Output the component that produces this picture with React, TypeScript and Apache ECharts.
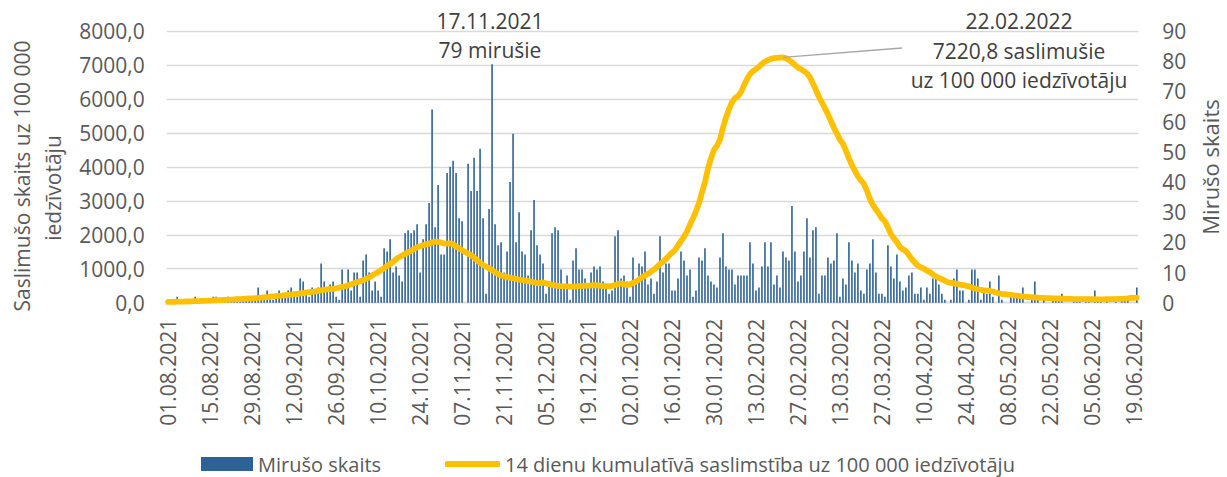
import React, { useEffect, useRef } from "react";
import * as echarts from "echarts";

const FONT = "'Open Sans', 'Noto Sans', sans-serif";

// Categories: daily dates from 01.08.2021, 324 days
const START = { year: 2021, month: 8, day: 1 };
const DAY_COUNT = 324;

const categories: string[] = (() => {
  const out: string[] = [];
  for (let i = 0; i < DAY_COUNT; i++) {
    const d = new Date(Date.UTC(START.year, START.month - 1, START.day + i));
    const dd = String(d.getUTCDate()).padStart(2, "0");
    const mm = String(d.getUTCMonth() + 1).padStart(2, "0");
    out.push(`${dd}.${mm}.${d.getUTCFullYear()}`);
  }
  return out;
})();

// Daily deaths (right axis)
const deaths: number[] = [
  1, 0, 1, 2, 0, 1, 1, 0, 1, 2,
  0, 1, 0, 1, 1, 2, 2, 0, 1, 1,
  2, 1, 1, 2, 1, 2, 1, 2, 2, 1,
  5, 1, 2, 4, 2, 1, 2, 4, 2, 2,
  4, 5, 3, 2, 8, 7, 3, 2, 5, 3,
  5, 13, 7, 4, 6, 7, 2, 1, 11, 5,
  11, 4, 10, 10, 2, 14, 16, 10, 4, 7,
  4, 2, 18, 17, 21, 10, 12, 9, 7, 23,
  24, 23, 24, 26, 10, 21, 26, 33, 64, 25,
  39, 16, 16, 43, 45, 47, 43, 28, 27, 0,
  46, 37, 48, 37, 51, 28, 3, 31, 79, 26,
  19, 20, 10, 17, 40, 56, 20, 30, 17, 16,
  9, 24, 34, 19, 16, 13, 3, 7, 23, 25,
  24, 11, 5, 9, 1, 14, 18, 11, 11, 8,
  6, 10, 12, 11, 12, 7, 6, 3, 4, 22,
  24, 8, 9, 7, 2, 15, 7, 13, 12, 17,
  6, 8, 3, 7, 22, 10, 13, 13, 4, 4,
  8, 17, 14, 9, 11, 2, 4, 15, 14, 18,
  9, 7, 6, 5, 15, 23, 12, 11, 11, 6,
  9, 9, 9, 9, 20, 13, 4, 5, 12, 20,
  12, 20, 6, 9, 5, 17, 15, 14, 32, 17,
  7, 9, 17, 28, 15, 24, 25, 3, 9, 9,
  15, 13, 14, 23, 2, 8, 6, 20, 14, 10,
  13, 4, 3, 11, 13, 21, 10, 3, 3, 2,
  19, 12, 8, 16, 7, 4, 5, 9, 10, 3,
  3, 5, 1, 5, 3, 8, 9, 6, 3, 1,
  0, 1, 8, 11, 4, 4, 0, 1, 11, 11,
  8, 1, 4, 3, 7, 2, 0, 9, 1, 0,
  0, 2, 2, 2, 2, 5, 0, 0, 1, 7,
  1, 0, 1, 0, 0, 1, 1, 1, 3, 0,
  0, 0, 1, 1, 1, 0, 1, 1, 0, 4,
  1, 1, 0, 1, 0, 0, 1, 0, 1, 1,
  1, 0, 0, 5,
];

// 14-day cumulative incidence per 100 000 (left axis)
const incidence: number[] = [
  25, 26, 28, 30, 32, 34, 36, 38, 41, 44,
  48, 52, 56, 60, 64, 68, 72, 76, 80, 84,
  88, 92, 97, 102, 107, 112, 118, 124, 130, 136,
  143, 150, 158, 166, 174, 183, 192, 201, 210, 220,
  230, 240, 251, 262, 273, 284, 296, 308, 320, 333,
  346, 360, 375, 390, 400, 410, 425, 445, 465, 485,
  510, 540, 575, 605, 635, 664, 700, 745, 800, 850,
  900, 960, 1020, 1080, 1140, 1200, 1280, 1340, 1390, 1440,
  1480, 1530, 1580, 1630, 1660, 1690, 1718, 1740, 1770, 1800,
  1795, 1770, 1740, 1740, 1747, 1720, 1660, 1600, 1550, 1490,
  1440, 1400, 1330, 1250, 1170, 1110, 1060, 1010, 960, 900,
  840, 800, 775, 755, 740, 720, 700, 680, 665, 650,
  635, 620, 600, 575, 580, 595, 570, 545, 525, 510,
  495, 487, 480, 480, 470, 475, 480, 487, 490, 500,
  505, 510, 517, 510, 500, 490, 485, 487, 495, 520,
  545, 566, 540, 517, 540, 580, 620, 680, 743, 800,
  850, 910, 980, 1050, 1140, 1205, 1290, 1380, 1470, 1550,
  1680, 1820, 1943, 2100, 2300, 2486, 2700, 2928, 3250, 3550,
  3950, 4250, 4500, 4620, 4800, 5150, 5450, 5700, 5900, 6020,
  6080, 6200, 6400, 6580, 6730, 6820, 6880, 6950, 7030, 7100,
  7140, 7180, 7200, 7210, 7215, 7220.8, 7200, 7140, 7080, 7000,
  6920, 6880, 6820, 6750, 6640, 6450, 6260, 6060, 5900, 5720,
  5550, 5350, 5150, 4980, 4800, 4680, 4480, 4250, 4050, 3880,
  3720, 3600, 3500, 3300, 3050, 2880, 2750, 2620, 2480, 2400,
  2220, 2020, 1900, 1780, 1640, 1570, 1520, 1400, 1280, 1180,
  1090, 1040, 1000, 950, 900, 830, 780, 730, 690, 650,
  600, 585, 570, 555, 535, 517, 500, 480, 450, 420,
  395, 375, 365, 355, 345, 330, 300, 275, 260, 250,
  240, 231, 215, 205, 195, 185, 175, 168, 160, 155,
  150, 145, 140, 135, 132, 130, 127, 124, 120, 115,
  112, 110, 108, 106, 105, 104, 103, 102, 102, 101,
  100, 100, 100, 101, 102, 104, 106, 110, 115, 120,
  130, 140, 145, 150,
];

const SERIES_DEATHS = "Mirušo skaits";
const SERIES_INCIDENCE = "14 dienu kumulatīvā saslimstība uz 100 000 iedzīvotāju";
const LEFT_TITLE = ["Saslimušo skaits uz 100 000", "iedzīvotāju"];
const RIGHT_TITLE = "Mirušo skaits";
const DEATH_PEAK_TEXT = ["17.11.2021", "79 mirušie"];
const INCIDENCE_PEAK_TEXT = ["22.02.2022", "7220,8 saslimušie", "uz 100 000 iedzīvotāju"];

const LEFT_MAX = 8000;
const LEFT_STEP = 1000;
const RIGHT_MAX = 90;
const RIGHT_STEP = 10;

const TEXT = "#595959";
const DARK = "#404040";
const GRID = "#d9d9d9";
const BLUE = "#2E6295";
const YELLOW = "#FFC000";

function txt(text: string, x: number, y: number, size: number, color: string, rotation = 0) {
  return {
    type: "text",
    x,
    y,
    rotation,
    silent: true,
    style: {
      text,
      fill: color,
      fontSize: size,
      fontFamily: FONT,
      align: "center",
      verticalAlign: "middle",
      textAlign: "center",
      textVerticalAlign: "middle",
    },
  };
}

export default function App() {
  const ref = useRef<HTMLDivElement>(null);

  useEffect(() => {
    if (!ref.current) return;
    const chart = echarts.init(ref.current, undefined, { renderer: "svg" });
    const legendText = { color: TEXT, fontSize: 20, lineHeight: 20, fontFamily: FONT };
    const option: any = {
      animation: false,
      textStyle: { fontFamily: FONT },
      grid: { left: 166.7, right: 88.7, top: 31, bottom: 174.3, containLabel: false },
      xAxis: {
        type: "category",
        data: categories,
        boundaryGap: true,
        axisLine: { show: true, lineStyle: { color: GRID, width: 1.3 } },
        axisTick: { show: false },
        axisLabel: {
          interval: 13,
          rotate: 90,
          margin: 16,
          color: TEXT,
          fontSize: 21,
          fontFamily: FONT,
        },
      },
      yAxis: [
        {
          type: "value",
          position: "left",
          min: 0,
          max: LEFT_MAX,
          interval: LEFT_STEP,
          axisLine: { show: false },
          axisTick: { show: false },
          splitLine: { show: true, lineStyle: { color: GRID, width: 1.3 } },
          axisLabel: {
            margin: 22,
            color: TEXT,
            fontSize: 21,
            fontFamily: FONT,
            formatter: (v: number) => v.toFixed(1).replace(".", ","),
          },
        },
        {
          type: "value",
          position: "right",
          min: 0,
          max: RIGHT_MAX,
          interval: RIGHT_STEP,
          axisLine: { show: false },
          axisTick: { show: false },
          splitLine: { show: false },
          axisLabel: { margin: 24, color: TEXT, fontSize: 21, fontFamily: FONT },
        },
      ],
      legend: [
        {
          data: [{ name: SERIES_DEATHS, icon: "rect" }],
          left: 201,
          top: 454,
          padding: 0,
          itemWidth: 52,
          itemHeight: 14,
          itemGap: 5,
          textStyle: legendText,
          selectedMode: false,
        },
        {
          data: [{ name: SERIES_INCIDENCE, icon: "roundRect" }],
          left: 445,
          top: 454,
          padding: 0,
          itemWidth: 55,
          itemHeight: 6,
          textStyle: legendText,
          selectedMode: false,
        },
      ],
      series: [
        {
          name: SERIES_DEATHS,
          type: "bar",
          yAxisIndex: 1,
          data: deaths,
          barWidth: 1.6,
          itemStyle: { color: BLUE },
          z: 2,
        },
        {
          name: SERIES_INCIDENCE,
          type: "line",
          yAxisIndex: 0,
          data: incidence,
          symbol: "none",
          showSymbol: false,
          smooth: false,
          lineStyle: { color: YELLOW, width: 5.8, cap: "round", join: "round" },
          itemStyle: { color: YELLOW },
          z: 3,
        },
      ],
    };
    chart.setOption(option);

    // annotation leader line from the incidence peak
    let peakIdx = 0;
    incidence.forEach((v, i) => {
      if (v > incidence[peakIdx]) peakIdx = i;
    });
    const peak = chart.convertToPixel({ xAxisIndex: 0, yAxisIndex: 0 }, [peakIdx, incidence[peakIdx]]) as number[];

    chart.setOption({
      graphic: [
        txt(LEFT_TITLE[0], 22, 176, 21, TEXT, Math.PI / 2),
        txt(LEFT_TITLE[1], 53, 188, 21, TEXT, Math.PI / 2),
        txt(RIGHT_TITLE, 1210, 167, 22, TEXT, Math.PI / 2),
        txt(DEATH_PEAK_TEXT[0], 490, 21, 21, DARK),
        txt(DEATH_PEAK_TEXT[1], 490, 50, 21, DARK),
        txt(INCIDENCE_PEAK_TEXT[0], 1019, 21, 21, DARK),
        txt(INCIDENCE_PEAK_TEXT[1], 1019, 51, 21, DARK),
        txt(INCIDENCE_PEAK_TEXT[2], 1019, 80, 21, DARK),
        {
          type: "line",
          silent: true,
          shape: { x1: peak[0], y1: peak[1], x2: 902, y2: 48 },
          style: { stroke: "#a6a6a6", lineWidth: 1.3 },
          z: 10,
        },
      ],
    });

    return () => chart.dispose();
  }, []);

  return (
    <div
      ref={ref}
      style={{ position: "fixed", left: 0, top: 0, width: 1227, height: 477, background: "#fff" }}
    />
  );
}
